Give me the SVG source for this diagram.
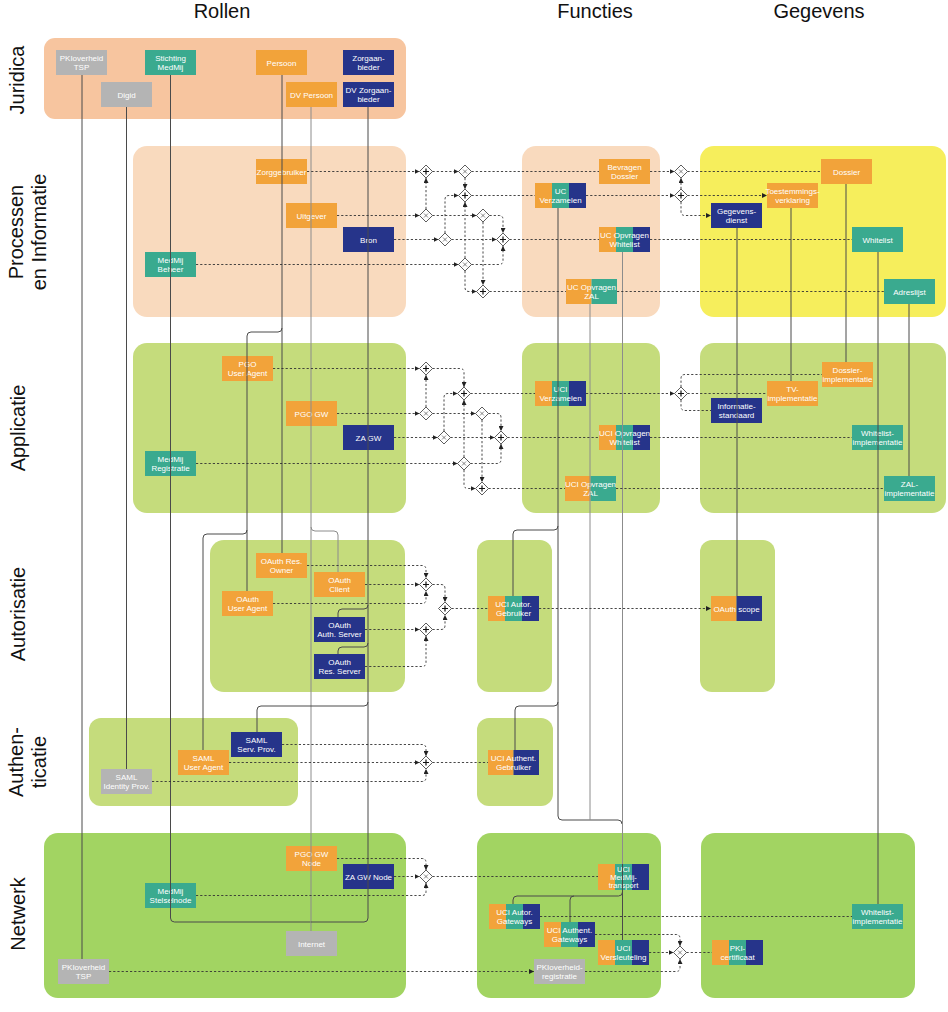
<svg xmlns="http://www.w3.org/2000/svg" width="948" height="1012" viewBox="0 0 948 1012">
<style>
.hd{font-family:"Liberation Sans",Arial,sans-serif;font-size:20px;fill:#111;text-anchor:middle}
.t{font-family:"Liberation Sans",Arial,sans-serif;font-size:8px;fill:#fff;text-anchor:middle}
.t3{font-family:"Liberation Sans",Arial,sans-serif;font-size:7.5px;fill:#fff;text-anchor:middle}
.o{fill:#f2a33a}.g{fill:#3aaa8f}.n{fill:#26348a}.gr{fill:#b4b4b4}
.rj{fill:#f7c59f}.rp{fill:#f9dabe}.ry{fill:#f6ee5c}.ra{fill:#c5dc7c}.rn{fill:#a2d462}
.s{fill:none;stroke:#4a4a4a;stroke-width:1}
.sg{fill:none;stroke:#8c8c8c;stroke-width:1}
.d{fill:none;stroke:#333;stroke-width:0.9;stroke-dasharray:2.2 2}
.a{marker-end:url(#ah)}
</style>
<defs>
<marker id="ah" viewBox="0 0 6 6" refX="6" refY="3" markerWidth="5" markerHeight="5" markerUnits="userSpaceOnUse" orient="auto"><path d="M0,0 L6,3 L0,6 z" fill="#222"/></marker>
<g id="gwp"><path d="M0,-6.5 L6.5,0 L0,6.5 L-6.5,0 Z" fill="#fff" stroke="#333" stroke-width="0.8"/><path d="M-3,0 H3 M0,-3 V3" stroke="#111" stroke-width="1.2"/></g>
<g id="gwx"><path d="M0,-6.5 L6.5,0 L0,6.5 L-6.5,0 Z" fill="#fff" stroke="#333" stroke-width="0.8"/><path d="M-2,-2 L2,2 M2,-2 L-2,2" stroke="#555" stroke-width="0.7"/></g>
</defs>
<rect width="948" height="1012" fill="#fff"/>

<g id="headers">
<text class="hd" x="222" y="18">Rollen</text>
<text class="hd" x="595" y="18">Functies</text>
<text class="hd" x="819" y="18">Gegevens</text>
<text class="hd" transform="translate(24,80) rotate(-90)">Juridica</text>
<text class="hd" transform="translate(23,232) rotate(-90)">Processen</text>
<text class="hd" transform="translate(46,232) rotate(-90)">en Informatie</text>
<text class="hd" transform="translate(25,428) rotate(-90)">Applicatie</text>
<text class="hd" transform="translate(25,614) rotate(-90)">Autorisatie</text>
<text class="hd" transform="translate(23,762) rotate(-90)">Authen-</text>
<text class="hd" transform="translate(46,762) rotate(-90)">ticatie</text>
<text class="hd" transform="translate(25,914) rotate(-90)">Netwerk</text>
</g>

<g id="regions">
<rect class="rj" x="44" y="38" width="362" height="81" rx="11"/>
<rect class="rp" x="133" y="146" width="273" height="171" rx="14"/>
<rect class="rp" x="522" y="146" width="138" height="171" rx="14"/>
<rect class="ry" x="700" y="146" width="246" height="171" rx="14"/>
<rect class="ra" x="133" y="343" width="273" height="170" rx="14"/>
<rect class="ra" x="522" y="343" width="138" height="170" rx="14"/>
<rect class="ra" x="700" y="343" width="246" height="170" rx="14"/>
<rect class="ra" x="210" y="540" width="195" height="152" rx="14"/>
<rect class="ra" x="477" y="540" width="75" height="152" rx="12"/>
<rect class="ra" x="700" y="540" width="75" height="152" rx="12"/>
<rect class="ra" x="89" y="718" width="209" height="88" rx="12"/>
<rect class="ra" x="477" y="718" width="76" height="88" rx="12"/>
<rect class="rn" x="44" y="833" width="362" height="165" rx="14"/>
<rect class="rn" x="477" y="833" width="184" height="165" rx="14"/>
<rect class="rn" x="701" y="833" width="214" height="165" rx="14"/>
</g>

<g id="nodes">
<g id="pki-tsp-1"><rect class="gr" x="56" y="50" width="51" height="25"/><text class="t" x="81.5"><tspan x="81.5" y="60.5">PKIoverheid</tspan><tspan x="81.5" y="69.5">TSP</tspan></text></g>
<g id="stichting-medmij"><rect class="g" x="145" y="50" width="51" height="25"/><text class="t"><tspan x="170.5" y="60.5">Stichting</tspan><tspan x="170.5" y="69.5">MedMij</tspan></text></g>
<g id="persoon"><rect class="o" x="256" y="50" width="51" height="25"/><text class="t" x="281.5" y="65.5">Persoon</text></g>
<g id="zorgaanbieder"><rect class="n" x="343" y="50" width="51" height="25"/><text class="t"><tspan x="368.5" y="60.5">Zorgaan-</tspan><tspan x="368.5" y="69.5">bieder</tspan></text></g>
<g id="digid"><rect class="gr" x="101" y="82" width="51" height="25"/><text class="t" x="126.5" y="97.5">Digid</text></g>
<g id="dv-persoon"><rect class="o" x="286" y="82" width="51" height="25"/><text class="t" x="311.5" y="97.5">DV Persoon</text></g>
<g id="dv-zorgaanbieder"><rect class="n" x="343" y="82" width="51" height="25"/><text class="t"><tspan x="368.5" y="92.5">DV Zorgaan-</tspan><tspan x="368.5" y="101.5">bieder</tspan></text></g>

<g id="zorggebruiker"><rect class="o" x="256" y="159" width="51" height="25"/><text class="t" x="281.5" y="174.5">Zorggebruiker</text></g>
<g id="uitgever"><rect class="o" x="286" y="203" width="51" height="25"/><text class="t" x="311.5" y="218.5">Uitgever</text></g>
<g id="bron"><rect class="n" x="343" y="227" width="51" height="25"/><text class="t" x="368.5" y="242.5">Bron</text></g>
<g id="medmij-beheer"><rect class="g" x="145" y="252" width="51" height="25"/><text class="t"><tspan x="170.5" y="262.5">MedMij</tspan><tspan x="170.5" y="271.5">Beheer</tspan></text></g>
<g id="bevragen-dossier"><rect class="o" x="599" y="159" width="51" height="25"/><text class="t"><tspan x="624.5" y="169.5">Bevragen</tspan><tspan x="624.5" y="178.5">Dossier</tspan></text></g>
<g id="uc-verzamelen"><rect class="o" x="535" y="183" width="17" height="25"/><rect class="g" x="552" y="183" width="17" height="25"/><rect class="n" x="569" y="183" width="17" height="25"/><text class="t"><tspan x="560.5" y="193.5">UC</tspan><tspan x="560.5" y="202.5">Verzamelen</tspan></text></g>
<g id="uc-opvragen-whitelist"><rect class="o" x="599" y="227" width="17" height="25"/><rect class="g" x="616" y="227" width="17" height="25"/><rect class="n" x="633" y="227" width="17" height="25"/><text class="t"><tspan x="624.5" y="237.5">UC Opvragen</tspan><tspan x="624.5" y="246.5">Whitelist</tspan></text></g>
<g id="uc-opvragen-zal"><rect class="o" x="566" y="279" width="25.5" height="25"/><rect class="g" x="591.5" y="279" width="25.5" height="25"/><text class="t"><tspan x="591.5" y="289.5">UC Opvragen</tspan><tspan x="591.5" y="298.5">ZAL</tspan></text></g>
<g id="dossier"><rect class="o" x="821" y="159" width="51" height="25"/><text class="t" x="846.5" y="174.5">Dossier</text></g>
<g id="toestemmingsverklaring"><rect class="o" x="767" y="183" width="51" height="25"/><text class="t"><tspan x="792.5" y="193.5">Toestemmings-</tspan><tspan x="792.5" y="202.5">verklaring</tspan></text></g>
<g id="gegevensdienst"><rect class="n" x="711" y="203" width="51" height="25"/><text class="t"><tspan x="736.5" y="213.5">Gegevens-</tspan><tspan x="736.5" y="222.5">dienst</tspan></text></g>
<g id="whitelist"><rect class="g" x="852" y="227" width="51" height="25"/><text class="t" x="877.5" y="242.5">Whitelist</text></g>
<g id="adreslijst"><rect class="g" x="884" y="279" width="51" height="25"/><text class="t" x="909.5" y="294.5">Adreslijst</text></g>

<g id="pgo-user-agent"><rect class="o" x="222" y="356" width="51" height="25"/><text class="t"><tspan x="247.5" y="366.5">PGO</tspan><tspan x="247.5" y="375.5">User Agent</tspan></text></g>
<g id="pgo-gw"><rect class="o" x="286" y="401" width="51" height="25"/><text class="t" x="311.5" y="416.5">PGO GW</text></g>
<g id="za-gw"><rect class="n" x="343" y="425" width="51" height="25"/><text class="t" x="368.5" y="440.5">ZA GW</text></g>
<g id="medmij-registratie"><rect class="g" x="145" y="451" width="51" height="25"/><text class="t"><tspan x="170.5" y="461.5">MedMij</tspan><tspan x="170.5" y="470.5">Registratie</tspan></text></g>
<g id="uci-verzamelen"><rect class="o" x="535" y="381" width="17" height="25"/><rect class="g" x="552" y="381" width="17" height="25"/><rect class="n" x="569" y="381" width="17" height="25"/><text class="t"><tspan x="560.5" y="391.5">UCI</tspan><tspan x="560.5" y="400.5">Verzamelen</tspan></text></g>
<g id="uci-opvragen-whitelist"><rect class="o" x="599" y="425" width="17" height="25"/><rect class="g" x="616" y="425" width="17" height="25"/><rect class="n" x="633" y="425" width="17" height="25"/><text class="t"><tspan x="624.5" y="435.5">UCI Opvragen</tspan><tspan x="624.5" y="444.5">Whitelist</tspan></text></g>
<g id="uci-opvragen-zal"><rect class="o" x="565" y="476" width="25.5" height="25"/><rect class="g" x="590.5" y="476" width="25.5" height="25"/><text class="t"><tspan x="590.5" y="486.5">UCI Opvragen</tspan><tspan x="590.5" y="495.5">ZAL</tspan></text></g>
<g id="dossier-implementatie"><rect class="o" x="822" y="362" width="51" height="25"/><text class="t"><tspan x="847.5" y="372.5">Dossier-</tspan><tspan x="847.5" y="381.5">implementatie</tspan></text></g>
<g id="tv-implementatie"><rect class="o" x="767" y="381" width="51" height="25"/><text class="t"><tspan x="792.5" y="391.5">TV-</tspan><tspan x="792.5" y="400.5">implementatie</tspan></text></g>
<g id="informatiestandaard"><rect class="n" x="711" y="398" width="51" height="25"/><text class="t"><tspan x="736.5" y="408.5">Informatie-</tspan><tspan x="736.5" y="417.5">standaard</tspan></text></g>
<g id="whitelist-implementatie"><rect class="g" x="852" y="425" width="51" height="25"/><text class="t"><tspan x="877.5" y="435.5">Whitelist-</tspan><tspan x="877.5" y="444.5">implementatie</tspan></text></g>
<g id="zal-implementatie"><rect class="g" x="884" y="476" width="51" height="25"/><text class="t"><tspan x="909.5" y="486.5">ZAL-</tspan><tspan x="909.5" y="495.5">implementatie</tspan></text></g>

<g id="oauth-res-owner"><rect class="o" x="256" y="553" width="51" height="25"/><text class="t"><tspan x="281.5" y="563.5">OAuth Res.</tspan><tspan x="281.5" y="572.5">Owner</tspan></text></g>
<g id="oauth-client"><rect class="o" x="314" y="572" width="51" height="25"/><text class="t"><tspan x="339.5" y="582.5">OAuth</tspan><tspan x="339.5" y="591.5">Client</tspan></text></g>
<g id="oauth-user-agent"><rect class="o" x="222" y="591" width="51" height="25"/><text class="t"><tspan x="247.5" y="601.5">OAuth</tspan><tspan x="247.5" y="610.5">User Agent</tspan></text></g>
<g id="oauth-auth-server"><rect class="n" x="314" y="617" width="51" height="25"/><text class="t"><tspan x="339.5" y="627.5">OAuth</tspan><tspan x="339.5" y="636.5">Auth. Server</tspan></text></g>
<g id="oauth-res-server"><rect class="n" x="314" y="654" width="51" height="25"/><text class="t"><tspan x="339.5" y="664.5">OAuth</tspan><tspan x="339.5" y="673.5">Res. Server</tspan></text></g>
<g id="uci-autor-gebruiker"><rect class="o" x="488" y="596" width="17" height="25"/><rect class="g" x="505" y="596" width="17" height="25"/><rect class="n" x="522" y="596" width="17" height="25"/><text class="t"><tspan x="513.5" y="606.5">UCI Autor.</tspan><tspan x="513.5" y="615.5">Gebruiker</tspan></text></g>
<g id="oauth-scope"><rect class="o" x="711" y="596" width="25.5" height="25"/><rect class="n" x="736.5" y="596" width="25.5" height="25"/><text class="t" x="736.5" y="611.5">OAuth scope</text></g>

<g id="saml-serv-prov"><rect class="n" x="231" y="732" width="51" height="25"/><text class="t"><tspan x="256.5" y="742.5">SAML</tspan><tspan x="256.5" y="751.5">Serv. Prov.</tspan></text></g>
<g id="saml-user-agent"><rect class="o" x="178" y="750" width="51" height="25"/><text class="t"><tspan x="203.5" y="760.5">SAML</tspan><tspan x="203.5" y="769.5">User Agent</tspan></text></g>
<g id="saml-identity-prov"><rect class="gr" x="101" y="769" width="51" height="25"/><text class="t"><tspan x="126.5" y="779.5">SAML</tspan><tspan x="126.5" y="788.5">Identity Prov.</tspan></text></g>
<g id="uci-authent-gebruiker"><rect class="o" x="488" y="750" width="25.5" height="25"/><rect class="n" x="513.5" y="750" width="25.5" height="25"/><text class="t"><tspan x="513.5" y="760.5">UCI Authent.</tspan><tspan x="513.5" y="769.5">Gebruiker</tspan></text></g>

<g id="pgo-gw-node"><rect class="o" x="286" y="846" width="51" height="25"/><text class="t"><tspan x="311.5" y="856.5">PGO GW</tspan><tspan x="311.5" y="865.5">Node</tspan></text></g>
<g id="za-gw-node"><rect class="n" x="343" y="864" width="51" height="25"/><text class="t" x="368.5" y="879.5">ZA GW Node</text></g>
<g id="medmij-stelselnode"><rect class="g" x="145" y="883" width="51" height="25"/><text class="t"><tspan x="170.5" y="893.5">MedMij</tspan><tspan x="170.5" y="902.5">Stelselnode</tspan></text></g>
<g id="internet"><rect class="gr" x="286" y="931" width="51" height="25"/><text class="t" x="311.5" y="946.5">Internet</text></g>
<g id="pki-tsp-2"><rect class="gr" x="58" y="959" width="51" height="25"/><text class="t"><tspan x="83.5" y="969.5">PKIoverheid</tspan><tspan x="83.5" y="978.5">TSP</tspan></text></g>
<g id="uci-medmij-transport"><rect class="o" x="598" y="864" width="17" height="26"/><rect class="g" x="615" y="864" width="17" height="26"/><rect class="n" x="632" y="864" width="17" height="26"/><text class="t3"><tspan x="623.5" y="871.5">UCI</tspan><tspan x="623.5" y="879.5">MedMij-</tspan><tspan x="623.5" y="887.5">transport</tspan></text></g>
<g id="uci-autor-gateways"><rect class="o" x="489" y="904" width="17" height="25"/><rect class="g" x="506" y="904" width="17" height="25"/><rect class="n" x="523" y="904" width="17" height="25"/><text class="t"><tspan x="514.5" y="914.5">UCI Autor.</tspan><tspan x="514.5" y="923.5">Gateways</tspan></text></g>
<g id="uci-authent-gateways"><rect class="o" x="544" y="922" width="17" height="25"/><rect class="g" x="561" y="922" width="17" height="25"/><rect class="n" x="578" y="922" width="17" height="25"/><text class="t"><tspan x="569.5" y="932.5">UCI Authent.</tspan><tspan x="569.5" y="941.5">Gateways</tspan></text></g>
<g id="uci-versleuteling"><rect class="o" x="598" y="940" width="17" height="25"/><rect class="g" x="615" y="940" width="17" height="25"/><rect class="n" x="632" y="940" width="17" height="25"/><text class="t"><tspan x="623.5" y="950.5">UCI</tspan><tspan x="623.5" y="959.5">Versleuteling</tspan></text></g>
<g id="pkioverheid-registratie"><rect class="gr" x="534" y="959" width="51" height="25"/><text class="t"><tspan x="559.5" y="969.5">PKIoverheid-</tspan><tspan x="559.5" y="978.5">registratie</tspan></text></g>
<g id="pki-certificaat"><rect class="o" x="712" y="940" width="17" height="25"/><rect class="g" x="729" y="940" width="17" height="25"/><rect class="n" x="746" y="940" width="17" height="25"/><text class="t"><tspan x="737.5" y="950.5">PKI-</tspan><tspan x="737.5" y="959.5">certificaat</tspan></text></g>
<g id="whitelist-implementatie-netwerk"><rect class="g" x="852" y="904" width="51" height="25"/><text class="t"><tspan x="877.5" y="914.5">Whitelist-</tspan><tspan x="877.5" y="923.5">implementatie</tspan></text></g>
</g>

<g id="connectors">
<!-- solid relation lines -->
<path class="s" d="M82,75 V959"/>
<path class="s" d="M126.5,107 V769"/>
<path class="s" d="M170.5,75 V918 Q170.5,922 174.5,922 H311"/>
<path class="s" d="M282,75 V553"/>
<path class="s" d="M282,328 Q282,332 278,332 H251 Q247,332 247,336 V591"/>
<path class="s" d="M247,530 Q247,534 243,534 H207 Q203,534 203,538 V750"/>
<path class="sg" d="M311,107 V931"/>
<path class="sg" d="M311,527 Q311,531 315,531 H334 Q338,531 338,535 V572"/>
<path class="s" d="M368,107 V918 Q368,922 364,922 H311"/>
<path class="s" d="M368,605 Q368,609 364,609 H342 Q338,609 338,613 V617"/>
<path class="s" d="M368,643 Q368,647 364,647 H342 Q338,647 338,651 V654"/>
<path class="s" d="M368,702 Q368,706 364,706 H261 Q257,706 257,710 V732"/>
<path class="s" d="M558,208 V816 Q558,820 562,820 H618 Q622,820 622,824"/>
<path class="s" d="M558,526 Q558,530 554,530 H517 Q513,530 513,534 V596"/>
<path class="s" d="M558,702 Q558,706 554,706 H519 Q515,706 515,710 V750"/>
<path class="sg" d="M590,304 V820"/>
<path class="sg" d="M622.5,252 V864"/>
<path class="s" d="M622.5,864 V940"/>
<path class="s" d="M622.5,892 Q622.5,896 618.5,896 H517 Q513,896 513,900 V904"/>
<path class="s" d="M574,896 Q570,896 570,900 V922"/>
<path class="s" d="M737,228 V596"/>
<path class="s" d="M791,208 V381"/>
<path class="s" d="M846,184 V362"/>
<path class="s" d="M878,252 V904"/>
<path class="s" d="M909,304 V476"/>

<!-- Processen en Informatie -->
<path class="d a" d="M307,171.5 H419.5"/>
<path class="d a" d="M432.5,171.5 H458.5"/>
<path class="d" d="M471.5,171.5 H599"/>
<path class="d a" d="M650,171.5 H674.5"/>
<path class="d a" d="M465,178 V189"/>
<path class="d" d="M471.5,195.5 H535"/>
<path class="d a" d="M586,195.5 H674.5"/>
<path class="d a" d="M337,215.5 H419.5"/>
<path class="d a" d="M426,209 V178"/>
<path class="d a" d="M432.5,215.5 H476.5"/>
<path class="d a" d="M489.5,215.5 H499 Q503,215.5 503,219.5 V233"/>
<path class="d a" d="M483,222 V285"/>
<path class="d a" d="M394,239.5 H438.5"/>
<path class="d a" d="M445,233 V199.5 Q445,195.5 449,195.5 H458.5"/>
<path class="d a" d="M451.5,239.5 H496.5"/>
<path class="d" d="M509.5,239.5 H599"/>
<path class="d" d="M650,239.5 H852"/>
<path class="d a" d="M196,264.5 H458.5"/>
<path class="d a" d="M465,258 V202"/>
<path class="d a" d="M471.5,264.5 H499 Q503,264.5 503,260.5 V246"/>
<path class="d a" d="M465,271 V287.5 Q465,291.5 469,291.5 H476.5"/>
<path class="d" d="M489.5,291.5 H566"/>
<path class="d" d="M617,291.5 H884"/>
<path class="d" d="M687.5,171.5 H821"/>
<path class="d a" d="M681,189 V178"/>
<path class="d a" d="M687.5,195.5 H767"/>
<path class="d a" d="M681,202 V211.5 Q681,215.5 685,215.5 H711"/>

<!-- Applicatie -->
<path class="d a" d="M273,368.5 H419.5"/>
<path class="d a" d="M432.5,368.5 H460 Q464,368.5 464,372.5 V387"/>
<path class="d" d="M470.5,393.5 H535"/>
<path class="d a" d="M586,393.5 H674.5"/>
<path class="d a" d="M337,413.5 H419.5"/>
<path class="d a" d="M426,407 V375"/>
<path class="d a" d="M432.5,413.5 H475.5"/>
<path class="d a" d="M488.5,413.5 H497 Q501,413.5 501,417.5 V431"/>
<path class="d a" d="M482,420 V482"/>
<path class="d a" d="M394,437.5 H437.5"/>
<path class="d a" d="M444,431 V397.5 Q444,393.5 448,393.5 H457.5"/>
<path class="d a" d="M450.5,437.5 H494.5"/>
<path class="d" d="M507.5,437.5 H599"/>
<path class="d" d="M650,437.5 H852"/>
<path class="d a" d="M196,463.5 H457.5"/>
<path class="d a" d="M464,457 V400"/>
<path class="d a" d="M470.5,463.5 H497 Q501,463.5 501,459.5 V444"/>
<path class="d a" d="M464,470 V484.5 Q464,488.5 468,488.5 H475.5"/>
<path class="d" d="M488.5,488.5 H565"/>
<path class="d" d="M616,488.5 H884"/>
<path class="d" d="M681,387 V378.5 Q681,374.5 685,374.5 H822"/>
<path class="d" d="M687.5,393.5 H767"/>
<path class="d" d="M681,400 V406.5 Q681,410.5 685,410.5 H711"/>

<!-- Autorisatie -->
<path class="d a" d="M307,565.5 H422 Q426,565.5 426,569.5 V578"/>
<path class="d a" d="M365,584.5 H419.5"/>
<path class="d a" d="M273,603.5 H422 Q426,603.5 426,599.5 V591"/>
<path class="d a" d="M432.5,584.5 H441 Q445,584.5 445,588.5 V602"/>
<path class="d a" d="M365,629.5 H419.5"/>
<path class="d a" d="M365,666.5 H422 Q426,666.5 426,662.5 V636"/>
<path class="d a" d="M432.5,629.5 H441 Q445,629.5 445,625.5 V615"/>
<path class="d" d="M451.5,608.5 H488"/>
<path class="d a" d="M539,608.5 H711"/>

<!-- Authenticatie -->
<path class="d a" d="M282,744.5 H422 Q426,744.5 426,748.5 V756"/>
<path class="d a" d="M229,762.5 H419.5"/>
<path class="d a" d="M152,781.5 H422 Q426,781.5 426,777.5 V769"/>
<path class="d" d="M432.5,762.5 H488"/>

<!-- Netwerk -->
<path class="d a" d="M337,858.5 H422 Q426,858.5 426,862.5 V870"/>
<path class="d a" d="M394,876.5 H419.5"/>
<path class="d a" d="M196,895.5 H422 Q426,895.5 426,891.5 V883"/>
<path class="d" d="M432.5,876.5 H598"/>
<path class="d a" d="M109,971.5 H534"/>
<path class="d" d="M540,916.5 H852"/>
<path class="d a" d="M595,934.5 H676 Q680,934.5 680,938.5 V946"/>
<path class="d a" d="M649,952.5 H673.5"/>
<path class="d a" d="M585,971.5 H676 Q680,971.5 680,967.5 V959"/>
<path class="d" d="M686.5,952.5 H712"/>
</g>

<g id="gateways">
<use id="g1" href="#gwp" x="426" y="171.5"/>
<use id="g2" href="#gwx" x="465" y="171.5"/>
<use id="g3" href="#gwp" x="465" y="195.5"/>
<use id="g4" href="#gwx" x="426" y="215.5"/>
<use id="g5" href="#gwx" x="483" y="215.5"/>
<use id="g6" href="#gwx" x="445" y="239.5"/>
<use id="g7" href="#gwp" x="503" y="239.5"/>
<use id="g8" href="#gwx" x="465" y="264.5"/>
<use id="g9" href="#gwp" x="483" y="291.5"/>
<use id="g10" href="#gwx" x="681" y="171.5"/>
<use id="g11" href="#gwp" x="681" y="195.5"/>
<use id="a1" href="#gwp" x="426" y="368.5"/>
<use id="a2" href="#gwp" x="464" y="393.5"/>
<use id="a3" href="#gwx" x="426" y="413.5"/>
<use id="a4" href="#gwx" x="482" y="413.5"/>
<use id="a5" href="#gwx" x="444" y="437.5"/>
<use id="a6" href="#gwp" x="501" y="437.5"/>
<use id="a7" href="#gwx" x="464" y="463.5"/>
<use id="a8" href="#gwp" x="482" y="488.5"/>
<use id="a9" href="#gwp" x="681" y="393.5"/>
<use id="b1" href="#gwp" x="426" y="584.5"/>
<use id="b2" href="#gwp" x="445" y="608.5"/>
<use id="b3" href="#gwp" x="426" y="629.5"/>
<use id="c1" href="#gwp" x="426" y="762.5"/>
<use id="n1" href="#gwx" x="426" y="876.5"/>
<use id="n2" href="#gwx" x="680" y="952.5"/>
</g>
</svg>
